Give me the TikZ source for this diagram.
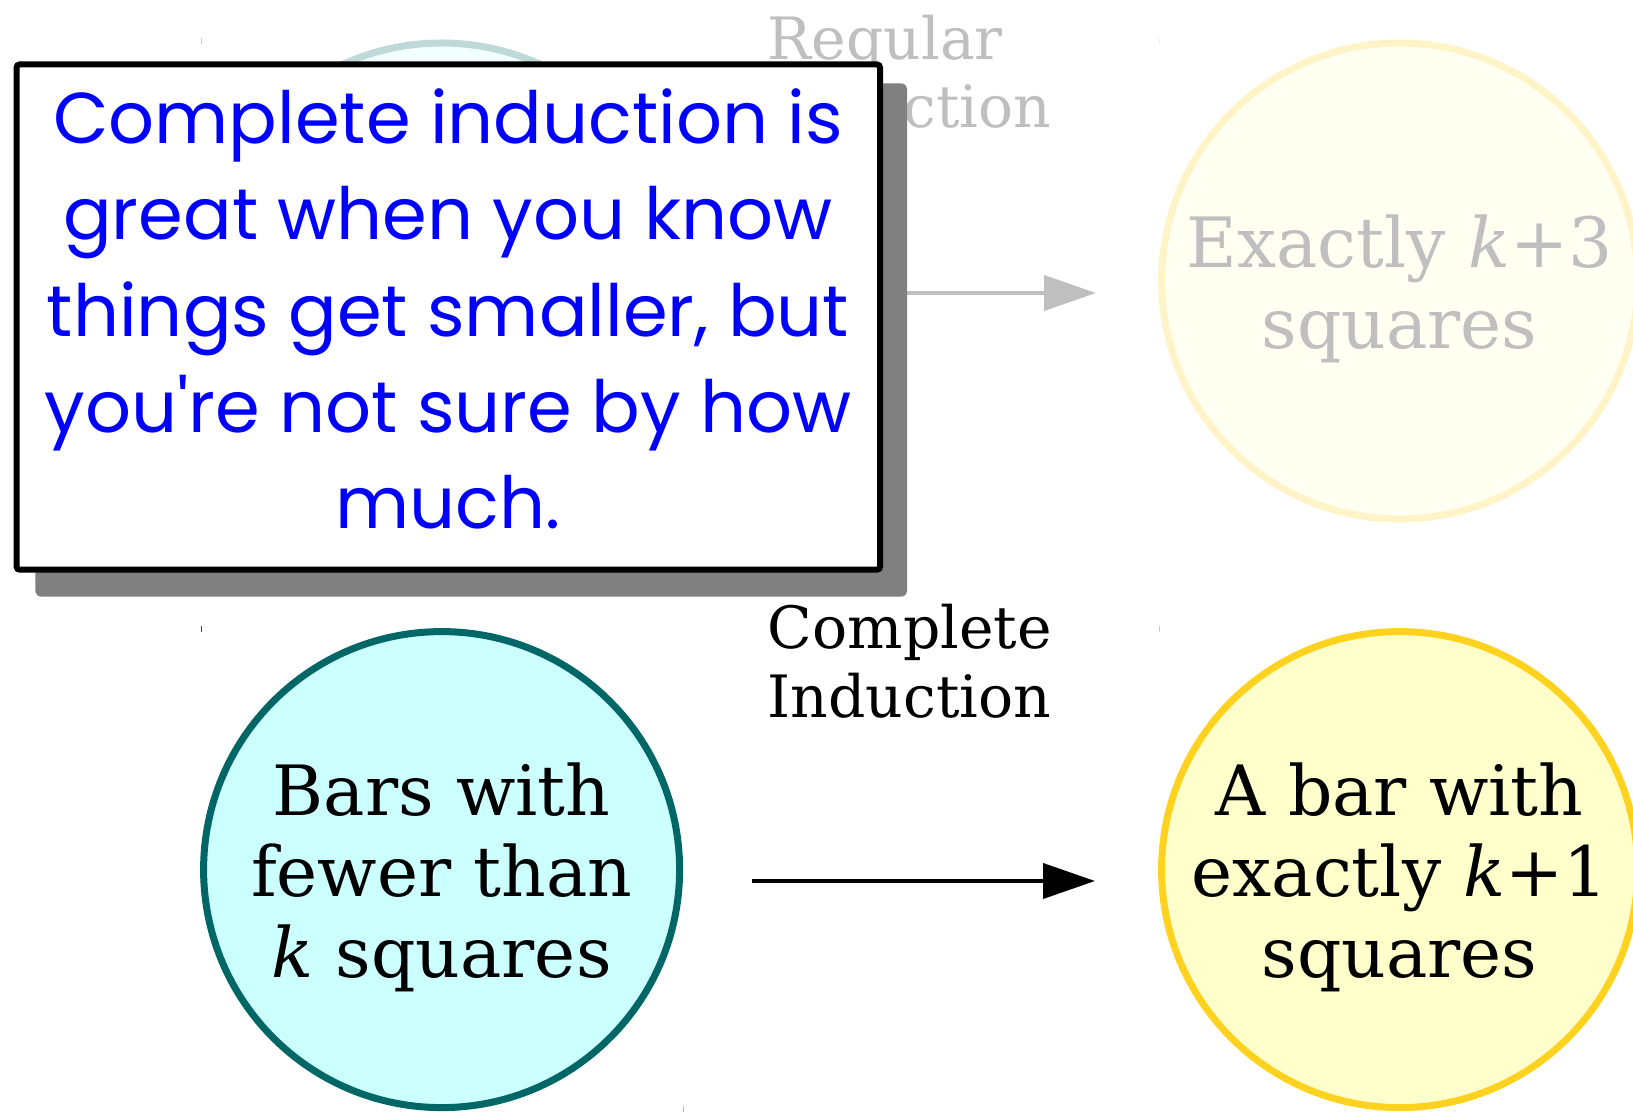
\documentclass[tikz,border=0pt]{standalone}
\usepackage{fontspec}
\setmainfont{DejaVu Serif}
\newfontfamily\handfont{Poppins}
\usetikzlibrary{arrows.meta}
\definecolor{tealline}{HTML}{006666}
\definecolor{tealfill}{HTML}{CCFFFF}
\definecolor{goldline}{HTML}{FFD21F}
\definecolor{goldfill}{HTML}{FFFFCC}
\definecolor{shadowgray}{HTML}{808080}
\definecolor{noteblue}{HTML}{0000FF}
\begin{document}
\begin{tikzpicture}[x=0.5pt,y=-0.5pt,
  circ/.style={circle, minimum size=238pt, inner sep=-40pt, line width=3.5pt, align=center,
    font=\fontsize{34.7}{40.4}\selectfont},
  lab/.style={anchor=base west, align=left, inner sep=0pt, font=\fontsize{29.2}{34.4}\selectfont},
  conn/.style={line width=2pt, -{Triangle[length=26pt,width=17.5pt]}},
  tickmark/.style={line width=0.5pt},
  notebox/.style={draw=black, fill=white, line width=3pt, rounded corners=1.5pt},
  noteshadow/.style={fill=shadowgray, rounded corners=3pt},
  notetext/.style={align=center, text=noteblue, inner sep=0pt,
    font=\handfont\fontsize{36}{48.2}\selectfont}
]
\useasboundingbox (0,0) rectangle (1633,1112);
% faded top row
\node[circ, draw=tealline!25, fill=tealfill!25, text=black!25] (tl) at (441.6,281) {};
\node[circ, draw=goldline!25, fill=goldfill!25, text=black!25] (tr) at (1399.6,281)
  {\rule{0pt}{34pt}Exactly \textit{k}+3\\squares};
\node[lab, text=black!25] (rlab) at (767.5,128) {Regular\\Induction};
\coordinate (ra) at (752,293);
\coordinate (rb) at (1096,293);
\draw[conn, draw=black!25, fill=black!25] (ra) -- (rb);
% bottom row
\node[circ, draw=tealline, fill=tealfill] (bl) at (441.6,869.6)
  {\rule{0pt}{34pt}Bars with\\fewer than\\\textit{k} squares};
\node[circ, draw=goldline, fill=goldfill] (br) at (1399.6,869.6)
  {\rule{0pt}{34pt}A bar with\\exactly \textit{k}+1\\squares};
\node[lab] (clab) at (767.5,717.5) {Complete\\Induction};
\coordinate (ca) at (752,881);
\coordinate (cb) at (1095,881);
\draw[conn] (ca) -- (cb);
% tiny tick marks
\coordinate (t1a) at (201,38); \coordinate (t1b) at (201,44);
\coordinate (t2a) at (1159,38); \coordinate (t2b) at (1159,44);
\coordinate (t3a) at (201,626); \coordinate (t3b) at (201,632);
\coordinate (t4a) at (1159,626); \coordinate (t4b) at (1159,632);
\coordinate (t5a) at (683,1106); \coordinate (t5b) at (683,1112);
\draw[tickmark, tealline!30] (t1a) -- (t1b);
\draw[tickmark, goldline!30] (t2a) -- (t2b);
\draw[tickmark, tealline] (t3a) -- (t3b);
\draw[tickmark, goldline] (t4a) -- (t4b);
\draw[tickmark, tealline!40] (t5a) -- (t5b);
% note box
\path[noteshadow] (35.4,83.3) rectangle (907,596.7);
\path[notebox] (16.6,64.5) rectangle (880,569.7);
\node[notetext] (note) at (448,309)
  {Complete induction is\\great when you know\\things get smaller, but\\you're not sure by how\\much.};
\end{tikzpicture}
\end{document}
